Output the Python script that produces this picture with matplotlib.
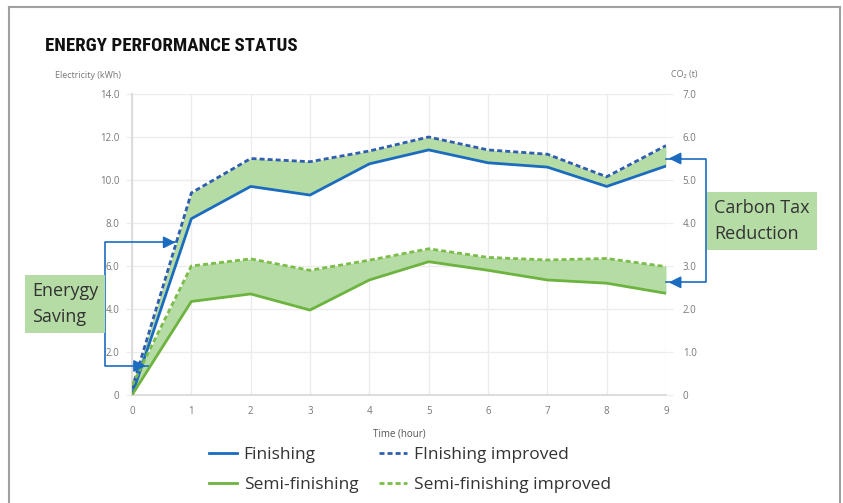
import matplotlib
matplotlib.use("Agg")
import matplotlib.pyplot as plt
from matplotlib import font_manager
from matplotlib.lines import Line2D

# data
hours = [0, 1, 2, 3, 4, 5, 6, 7, 8, 9]
finishing = [0.0, 8.2, 9.7, 9.3, 10.75, 11.4, 10.8, 10.6, 9.7, 10.65]
finishing_improved = [0.3, 9.4, 11.0, 10.85, 11.35, 12.0, 11.4, 11.2, 10.15, 11.6]
semi = [0.0, 4.35, 4.7, 3.95, 5.35, 6.2, 5.8, 5.35, 5.2, 4.73]
semi_improved = [0.45, 6.0, 6.33, 5.8, 6.27, 6.8, 6.4, 6.28, 6.35, 5.97]
left_ticks = [0, 2, 4, 6, 8, 10, 12, 14]
left_labels = ["0", "2.0", "4.0", "6.0", "8.0", "10.0", "12.0", "14.0"]
right_ticks = [0, 1, 2, 3, 4, 5, 6, 7]
right_labels = ["0", "1.0", "2.0", "3.0", "4.0", "5.0", "6.0", "7.0"]

plt.rcParams['font.family'] = ['Open Sans', 'DejaVu Sans']

W, H = 843, 503
fig = plt.figure(figsize=(W / 100, H / 100), dpi=100)

def fx(px):
    return px / W

def fy(py):
    return 1 - py / H

# pick a narrow font for the title if there is one
installed = set(f.name for f in font_manager.fontManager.ttflist)
title_font = "DejaVu Sans"
for name in ["Liberation Sans Narrow", "DejaVu Sans Condensed", "Roboto Condensed", "Open Sans Condensed", "Roboto"]:
    if name in installed:
        title_font = name
        break

# outer frame
frame_col = "#a0a0a0"
fig.add_artist(Line2D([fx(9), fx(9)], [0, fy(7)], color=frame_col, lw=1.5))
fig.add_artist(Line2D([fx(9), fx(840)], [fy(7), fy(7)], color=frame_col, lw=1.5))
fig.add_artist(Line2D([fx(840), fx(840)], [0, fy(7)], color=frame_col, lw=1.5))

ax = fig.add_axes([fx(132), fy(395), (666 - 132) / W, (395 - 94) / H])

blue = "#1b6cbf"
blue_dash = "#2f5eae"
green = "#6db33f"
green_dash = "#7cbd4a"
fill = "#b6dca6"

ax.fill_between(hours, finishing, finishing_improved, color=fill, lw=0, zorder=1)
ax.fill_between(hours, semi, semi_improved, color=fill, lw=0, zorder=1)
l1, = ax.plot(hours, finishing, color=blue, lw=2.0, zorder=3)
l2, = ax.plot(hours, semi, color=green, lw=2.0, zorder=3)
l3, = ax.plot(hours, finishing_improved, color=blue_dash, lw=2.0, ls=(0, (1.8, 1.1)), zorder=3)
l4, = ax.plot(hours, semi_improved, color=green_dash, lw=2.0, ls=(0, (1.8, 1.1)), zorder=3)

ax.set_xlim(0, 9)
ax.set_ylim(0, 14)
ax.set_xticks(hours)
ax.set_xticklabels([str(h) for h in hours])
ax.set_yticks(left_ticks)
ax.set_yticklabels(left_labels)
ax.grid(True, color="#ececec", lw=1)
ax.set_axisbelow(True)
for s in ["top", "right"]:
    ax.spines[s].set_visible(False)
for s in ["left", "bottom"]:
    ax.spines[s].set_color("#dddddd")
    ax.spines[s].set_linewidth(1.5)
ax.tick_params(axis="y", length=4, color="#ececec", pad=5, labelsize=7, labelcolor="#777777")
ax.tick_params(axis="x", length=0, pad=8, labelsize=7, labelcolor="#777777")
ax.set_xlabel("Time (hour)", fontsize=7, color="#555555", labelpad=8)

ax2 = ax.twinx()
ax2.set_ylim(0, 7)
ax2.set_yticks(right_ticks)
ax2.set_yticklabels(right_labels)
for s in ax2.spines.values():
    s.set_visible(False)
ax2.tick_params(axis="y", length=5, color="#ececec", pad=7, labelsize=7, labelcolor="#777777")

# title: size it so it spans the same width as the original
title = fig.text(fx(45), fy(46), "ENERGY PERFORMANCE STATUS", fontsize=20, fontweight="bold",
                 family=[title_font, "DejaVu Sans"], color="#111111", va="center", ha="left")
renderer = fig.canvas.get_renderer()
tw = title.get_window_extent(renderer).width
title.set_fontsize(min(20, 20 * 252 / tw))

fig.text(fx(88), fy(75), "Electricity (kWh)", fontsize=6.5, color="#777777", ha="center", va="center")
fig.text(fx(684), fy(75), "CO\u2082 (t)", fontsize=6.5, color="#777777", ha="center", va="center")

# bracket arrows
arrow = dict(arrowstyle="-|>", color=blue, lw=1.2, mutation_scale=18)
ax.plot([0.76, -0.455, -0.455, 0.27], [7.1, 7.1, 1.35, 1.35], color=blue, lw=1.2,
        clip_on=False, zorder=4)
ax.annotate("", xy=(0.78, 7.1), xytext=(0.5, 7.1), arrowprops=arrow, zorder=5)
ax.annotate("", xy=(0.28, 1.35), xytext=(0.0, 1.35), arrowprops=arrow,
            annotation_clip=False, zorder=5)
ax.plot([9.0, 9.675, 9.675, 9.0], [11.0, 11.0, 5.24, 5.24], color=blue, lw=1.2,
        clip_on=False, zorder=4)
ax.annotate("", xy=(9.0, 11.0), xytext=(9.3, 11.0), arrowprops=arrow,
            annotation_clip=False, zorder=5)
ax.annotate("", xy=(9.0, 5.24), xytext=(9.3, 5.24), arrowprops=arrow,
            annotation_clip=False, zorder=5)

# green labels
box = dict(boxstyle="square,pad=0.4", facecolor=fill, edgecolor="none")
fig.text(fx(32), fy(304), "Enerygy\nSaving", fontsize=13, color="#333333", ha="left",
         va="center", linespacing=1.55, bbox=box)
fig.text(fx(714), fy(221), "Carbon Tax\nReduction", fontsize=13, color="#333333", ha="left",
         va="center", linespacing=1.55, bbox=box)

fig.legend([l1, l2, l3, l4],
           ["Finishing", "Semi-finishing", "FInishing improved", "Semi-finishing improved"],
           ncol=2, loc="center", bbox_to_anchor=(fx(410), fy(470)), frameon=False,
           fontsize=12.5, handlelength=1.6, handletextpad=0.4, columnspacing=1.2,
           labelspacing=0.75, labelcolor="#333333")

fig.savefig("out.png", dpi=100)
